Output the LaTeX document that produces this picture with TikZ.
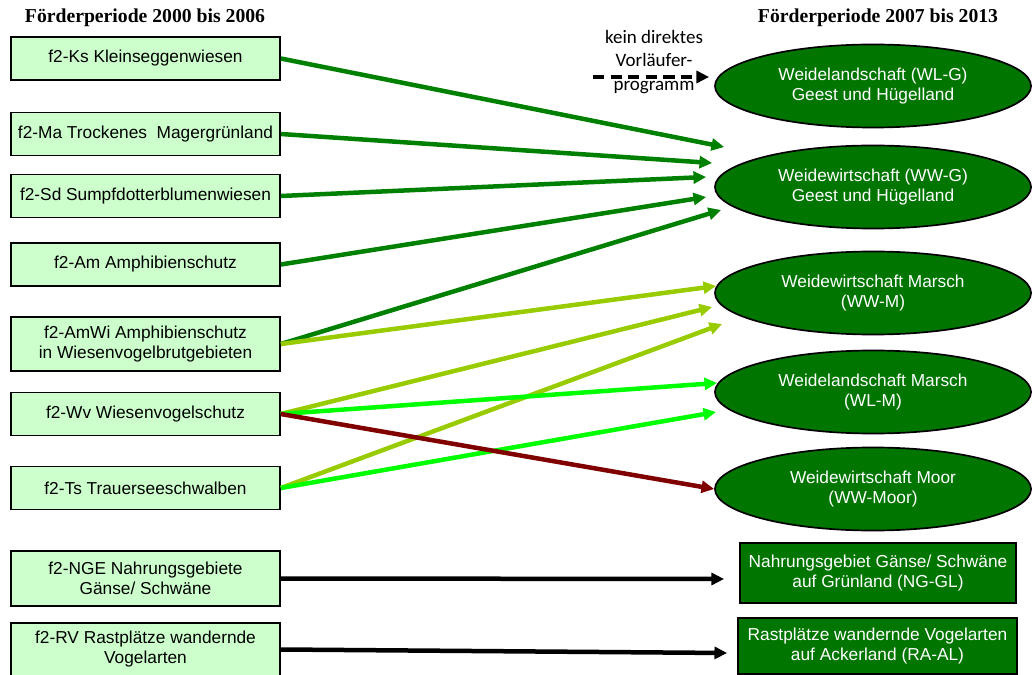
\documentclass[tikz,border=0pt]{standalone}
\usepackage{fontspec}
\setmainfont{Liberation Sans}
\newfontfamily\headfont{Liberation Serif}
\newfontfamily\notefont{Carlito}
\usetikzlibrary{arrows.meta, shapes.geometric, positioning, calc}

\definecolor{boxgreen}{RGB}{204,255,204}
\definecolor{newgreen}{RGB}{0,118,0}
\definecolor{flowgreen}{RGB}{0,128,0}
\definecolor{flowolive}{RGB}{153,204,0}
\definecolor{flowlime}{RGB}{0,255,0}
\definecolor{flowred}{RGB}{128,0,0}

\begin{document}
\begin{tikzpicture}[
    x=0.025cm, y=-0.025cm, >={Triangle[length=9pt, width=8.5pt]},
    % --- STYLES ---
    oldbox/.style={rectangle, draw, line width=1.2pt, fill=boxgreen, minimum width=6.725cm, minimum height=1.075cm, inner sep=1pt, align=center, font=\fontsize{12.3}{14.2}\selectfont},
    newoval/.style={ellipse, draw, line width=1.2pt, fill=newgreen, text=white, minimum width=7.9cm, minimum height=2.075cm, inner sep=0pt, align=center, font=\fontsize{12.3}{14.2}\selectfont},
    newbox/.style={rectangle, draw, line width=1.2pt, fill=newgreen, text=white, minimum height=1.45cm, inner sep=1pt, align=center, font=\fontsize{12.3}{14.2}\selectfont},
    heading/.style={font=\headfont\bfseries\fontsize{14}{16}\selectfont},
    note_text/.style={align=center, font=\notefont\fontsize{13.5}{16.4}\selectfont},
    % Flow Styles
    flow/.style={->, line width=3.2pt},
    green_flow/.style={flow, flowgreen},
    olive_flow/.style={flow, flowolive},
    lime_flow/.style={flow, flowlime},
    red_flow/.style={flow, flowred},
    black_flow/.style={flow, black},
    none_flow/.style={->, line width=3.2pt, dash pattern=on 8pt off 4.5pt}
]
\useasboundingbox (0,0) rectangle (1033,675);

% --- 1. HEADINGS ---
\node[heading] (H1) at (145,18) {Förderperiode 2000 bis 2006};
\node[heading] (H2) at (878,18) {Förderperiode 2007 bis 2013};

% --- 2. OLD PROGRAMMES (left) ---
\node[oldbox] (Ks) at (145.5,58.5) {f2-Ks Kleinseggenwiesen};
\node[oldbox] (Ma) at (145.5,134) {f2-Ma Trockenes\ \ Magergrünland};
\node[oldbox] (Sd) at (145.5,196) {f2-Sd Sumpfdotterblumenwiesen};
\node[oldbox] (Am) at (145.5,264.5) {f2-Am Amphibienschutz};
\node[oldbox, minimum height=1.35cm] (AmWi) at (145.5,344) {f2-AmWi Amphibienschutz\\in Wiesenvogelbrutgebieten};
\node[oldbox] (Wv) at (145.5,414) {f2-Wv Wiesenvogelschutz};
\node[oldbox] (Ts) at (145.5,488) {f2-Ts Trauerseeschwalben};
\node[oldbox, minimum height=1.375cm] (NGE) at (145.5,578.5) {f2-NGE Nahrungsgebiete\\Gänse/ Schwäne};
\node[oldbox, minimum height=1.325cm] (RV) at (145.5,649.5) {f2-RV Rastplätze wandernde\\Vogelarten};

% --- 3. NEW PROGRAMMES (right) ---
\node[newoval] (WLG) at (873,86) {Weidelandschaft (WL-G)\\Geest und Hügelland};
\node[newoval] (WWG) at (873,187) {Weidewirtschaft (WW-G)\\Geest und Hügelland};
\node[newoval] (WWM) at (873,293) {Weidewirtschaft Marsch\\(WW-M)};
\node[newoval] (WLM) at (873,392) {Weidelandschaft Marsch\\(WL-M)};
\node[newoval] (WWMoor) at (873,489) {Weidewirtschaft Moor\\(WW-Moor)};
\node[newbox, minimum width=6.9cm, minimum height=1.5cm] (NGGL) at (878,573) {Nahrungsgebiet Gänse/ Schwäne\\auf Grünland (NG-GL)};
\node[newbox, minimum width=6.975cm, minimum height=1.4cm] (RAAL) at (877.5,646) {Rastplätze wandernde Vogelarten\\auf Ackerland (RA-AL)};

% --- 4. NO PREDECESSOR ---
\node[note_text] (note) at (654,62) {kein direktes\\Vorläufer-\\programm};
\coordinate (nostart) at (593,77);
\draw[none_flow] (nostart) -- ($(WLG.west)+(-5,-9)$);

% --- 5. FLOWS ---
% A. to WW-G (dark green)
\draw[green_flow] (Ks.east) -- ($(WWG.west)+(10,-40)$);
\draw[green_flow] (Ma.east) -- ($(WWG.west)+(-2,-24)$);
\draw[green_flow] (Sd.east) -- ($(WWG.west)+(-8,-10)$);
\draw[green_flow] (Am.east) -- ($(WWG.west)+(-8,10)$);
\draw[green_flow] (AmWi.east) -- ($(WWG.west)+(7,23)$);

% B. to WW-M (olive)
\draw[olive_flow] (AmWi.east) -- ($(WWM.west)+(2,-7)$);
\draw[olive_flow] (Wv.east) -- ($(WWM.west)+(-2,14)$);
\draw[olive_flow] (Ts.east) -- ($(WWM.west)+(8,31)$);

% C. to WL-M (bright green)
\draw[lime_flow] (Wv.east) -- ($(WLM.west)+(3,-9)$);
\draw[lime_flow] (Ts.east) -- ($(WLM.west)+(2,20)$);

% D. to WW-Moor (dark red)
\draw[red_flow] (Wv.east) -- ($(WWMoor.west)+(0,0)$);

% E. one to one (black)
\draw[black_flow] (NGE.east) -- ($(NGGL.west)+(-15,6)$);
\draw[black_flow] (RV.east) -- ($(RAAL.west)+(-10,7)$);

\end{tikzpicture}
\end{document}
